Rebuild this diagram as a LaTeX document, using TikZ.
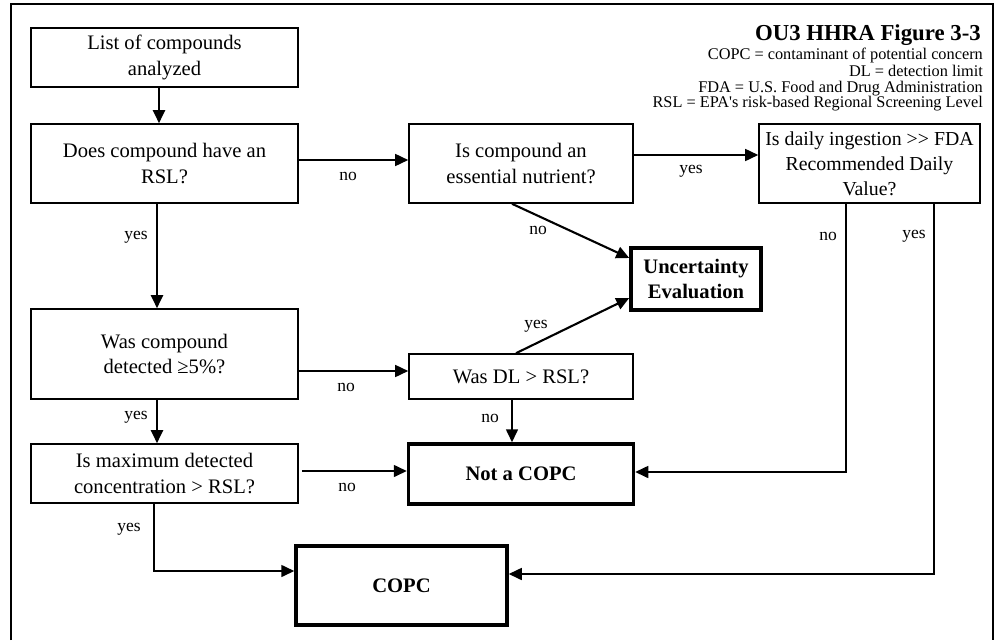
\documentclass[tikz,border=0pt]{standalone}
\usepackage{fontspec}
\setmainfont{Liberation Serif}
\newfontfamily\legendfont{Liberation Serif}
\usetikzlibrary{arrows.meta}
\begin{document}
\begin{tikzpicture}[x=1pt,y=-1pt,
  box/.style={draw,line width=1.6pt,rectangle,align=center,inner sep=0pt,font=\fontsize{20.6}{25.5}\selectfont},
  endbox/.style={draw,line width=3.5pt,rectangle,align=center,inner sep=0pt,font=\fontsize{20.6}{25.5}\selectfont\bfseries},
  arr/.style={line width=1.6pt,-{Triangle[length=13pt,width=12pt]}},
  thickarr/.style={arr,line width=2.1pt},
  lbl/.style={font=\fontsize{17.5}{20}\selectfont,inner sep=0pt},
  legend/.style={font=\legendfont\fontsize{16.3}{16}\selectfont,anchor=base east,inner sep=0pt}]
\useasboundingbox (0,0) rectangle (998,640);
\draw[line width=2.5pt] (11,640) -- (11,4) -- (993,4) -- (993,640);

% title and legend
\node[font=\fontsize{22.8}{24}\selectfont\bfseries,anchor=base east,inner sep=0pt] (title) at (981,40) {OU3 HHRA Figure 3-3};
\node[legend] (lg1) at (983,59) {COPC = contaminant of potential concern};
\node[legend] (lg2) at (983,76) {DL = detection limit};
\node[legend] (lg3) at (983,92) {FDA = U.S. Food and Drug Administration};
\node[legend] (lg4) at (983,107) {RSL = EPA's risk-based Regional Screening Level};

% boxes
\node[box,minimum width=267pt,minimum height=59pt] (list) at (164.5,57.5) {List of compounds\\analyzed};
\node[box,minimum width=267pt,minimum height=79pt] (has) at (164.5,163.5) {Does compound have an\\RSL?};
\node[box,minimum width=224pt,minimum height=79pt] (ess) at (521,163.5) {Is compound an\\essential nutrient?};
\node[box,minimum width=221pt,minimum height=79pt,font=\fontsize{19.8}{25}\selectfont] (daily) at (869.5,163.5) {Is daily ingestion >{}> FDA\\Recommended Daily\\Value?};
\node[endbox,minimum width=130pt,minimum height=62pt] (unc) at (696,279) {Uncertainty\\Evaluation};
\node[box,minimum width=267pt,minimum height=90pt] (det) at (164.5,354) {Was compound\\detected ≥5\%?};
\node[box,minimum width=224pt,minimum height=45pt] (dl) at (521,376.5) {Was DL > RSL?};
\node[box,minimum width=267pt,minimum height=59pt] (max) at (164.5,473.5) {Is maximum detected\\concentration > RSL?};
\node[endbox,minimum width=225pt,minimum height=60pt] (not) at (521,474) {Not a COPC};
\node[endbox,minimum width=211pt,minimum height=79pt] (copc) at (401.5,585.5) {COPC};

% connectors
\draw[thickarr] (list.south -| 159,0) -- (has.north -| 159,0);
\draw[thickarr] (has.south -| 157,0) -- (det.north -| 157,0);
\node[lbl] (l1) at (136,237) {yes};
\draw[arr] (has.east |- 0,160) -- (ess.west |- 0,160);
\node[lbl] (l2) at (348,176) {no};
\draw[arr] (ess.east |- 0,155) -- (daily.west |- 0,155);
\node[lbl] (l3) at (691,171) {yes};
\draw[thickarr] (ess.south -| 512,0) -- (unc.west |- 0,258);
\node[lbl] (l4) at (538,230) {no};
\draw[thickarr] (dl.north -| 516,0) -- (unc.west |- 0,298);
\node[lbl] (l5) at (536,326) {yes};
\draw[arr] (det.east |- 0,371) -- (dl.west |- 0,371);
\node[lbl] (l6) at (346,387) {no};
\draw[thickarr] (det.south -| 157,0) -- (max.north -| 157,0);
\node[lbl] (l7) at (136,417) {yes};
\draw[arr] (dl.south -| 512,0) -- (not.north -| 512,0);
\node[lbl] (l8) at (490,418) {no};
\draw[arr] ([xshift=3pt]max.east |- 0,471) -- (not.west |- 0,471);
\node[lbl] (l9) at (347,487) {no};
\draw[arr] (max.south -| 154,0) |- (copc.west |- 0,571);
\node[lbl] (l10) at (129,529) {yes};
\draw[arr] (daily.south -| 846,0) |- (not.east |- 0,472);
\node[lbl] (l11) at (828,236) {no};
\draw[arr] (daily.south -| 934,0) |- (copc.east |- 0,574);
\node[lbl] (l12) at (914,236) {yes};
\end{tikzpicture}
\end{document}
